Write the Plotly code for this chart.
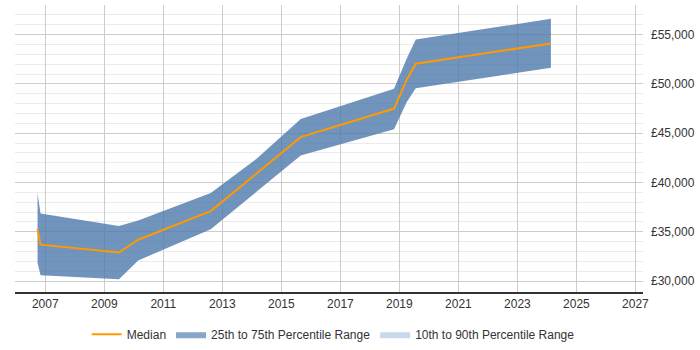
import plotly.graph_objects as go

dates = ["2006-09-27", "2006-11-03", "2009-07-01", "2010-02-24", "2012-08-10",
         "2014-03-15", "2015-08-29", "2018-10-27", "2019-04-01", "2019-07-23", "2024-02-20"]
median = [35300, 33700, 32900, 34200, 37100, 41000, 44600, 47500, 50400, 52050, 54100]
p75 = [38900, 36850, 35600, 36150, 38950, 42500, 46450, 49500, 52550, 54500, 56600]
p25 = [31850, 30600, 30200, 32100, 35250, 39200, 42750, 45400, 48150, 49550, 51650]

y_ticks = [30000, 35000, 40000, 45000, 50000, 55000]
y_labels = ["£30,000", "£35,000", "£40,000", "£45,000", "£50,000", "£55,000"]

fig = go.Figure()
fig.add_trace(go.Scatter(x=dates, y=p25, mode="lines", line=dict(width=0),
                         showlegend=False, hoverinfo="skip"))
fig.add_trace(go.Scatter(x=dates, y=p75, mode="lines", line=dict(width=0),
                         fill="tonexty", fillcolor="rgba(78,121,172,0.8)",
                         showlegend=False, hoverinfo="skip"))
fig.add_trace(go.Scatter(x=dates, y=median, mode="lines", name="Median",
                         line=dict(color="#FF9900", width=2)))
fig.add_trace(go.Scatter(x=[None], y=[None], mode="lines", name="25th to 75th Percentile Range",
                         fill="toself", fillcolor="#88A6C6", line=dict(width=0)))
fig.add_trace(go.Scatter(x=[None], y=[None], mode="lines", name="10th to 90th Percentile Range",
                         fill="toself", fillcolor="#C9D9EC", line=dict(width=0)))

fig.update_layout(
    width=700, height=350,
    margin=dict(l=15, r=57, t=5, b=58, autoexpand=False),
    paper_bgcolor="white", plot_bgcolor="white",
    font=dict(family="Liberation Sans, Arial, sans-serif", size=12, color="#333"),
    legend=dict(orientation="h", x=0.476, xanchor="center", xref="container",
                y=0.045, yanchor="middle", yref="container",
                font=dict(size=12, color="#333"), itemwidth=30, traceorder="normal"),
    showlegend=True,
)
fig.update_xaxes(
    type="date", range=["2005-12-22", "2027-04-05"],
    tick0="2007-01-01", dtick="M24", tickformat="%Y",
    showgrid=True, gridcolor="#cccccc", gridwidth=1,
    showline=True, linecolor="#333", linewidth=1.5,
    ticks="", zeroline=False, tickfont=dict(size=12, color="#333"),
)
fig.update_yaxes(
    side="right", range=[28900, 58000],
    tickvals=y_ticks, ticktext=y_labels,
    showgrid=True, gridcolor="#cccccc", gridwidth=1,
    minor=dict(dtick=1000, tick0=0, showgrid=True, gridcolor="#ebebeb", gridwidth=1),
    showline=False, zeroline=False, ticks="", ticklabelstandoff=7,
    tickfont=dict(size=12, color="#333"),
)

fig.write_html("out.html")
